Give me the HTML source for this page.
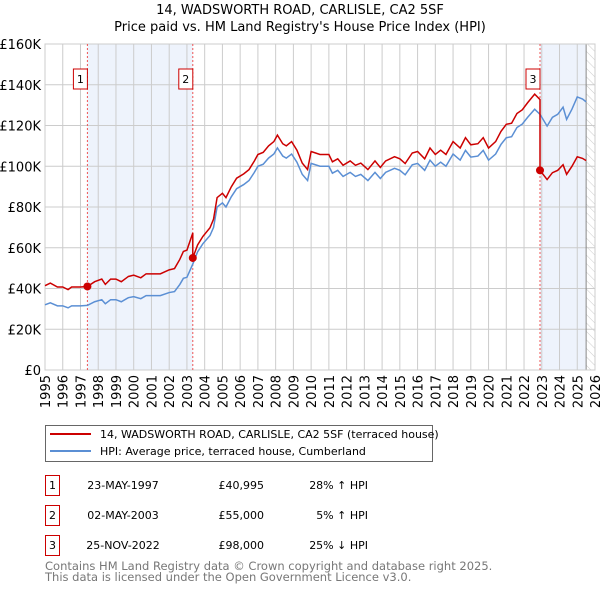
<!DOCTYPE html>
<html><head><meta charset="utf-8"><style>
body{margin:0;background:#fff;font-family:"Liberation Sans","DejaVu Sans",sans-serif;}
svg text{font-family:"DejaVu Sans","Liberation Sans",sans-serif;}
</style></head><body>
<svg id="chart" width="600" height="590" viewBox="0 0 600 590" xmlns="http://www.w3.org/2000/svg">
<defs><pattern id="hatch" width="6" height="6" patternUnits="userSpaceOnUse" patternTransform="rotate(-45)"><line x1="0" y1="0" x2="0" y2="6" stroke="#ccc" stroke-width="1"/></pattern></defs>
<text x="300" y="14" text-anchor="middle" font-size="13">14, WADSWORTH ROAD, CARLISLE, CA2 5SF</text>
<text x="300" y="31" text-anchor="middle" font-size="13">Price paid vs. HM Land Registry's House Price Index (HPI)</text>
<g id="plot"></g>
<g>
<rect x="45.5" y="425.5" width="387" height="36" fill="#fff" stroke="#666"/>
<line x1="50" y1="434" x2="91" y2="434" stroke="#cc0000" stroke-width="2"/>
<text x="100" y="438" font-size="11">14, WADSWORTH ROAD, CARLISLE, CA2 5SF (terraced house)</text>
<line x1="50" y1="451" x2="91" y2="451" stroke="#5b8fd4" stroke-width="2"/>
<text x="100" y="455" font-size="11">HPI: Average price, terraced house, Cumberland</text>
</g>
<g id="table"></g>
<text x="45" y="570" font-size="11.5" fill="#777">Contains HM Land Registry data © Crown copyright and database right 2025.</text>
<text x="45" y="581" font-size="11.5" fill="#777">This data is licensed under the Open Government Licence v3.0.</text>
</svg>
<script>
const hpiYears=[1995,1995.3,1995.7,1996,1996.3,1996.5,1997,1997.39,1997.8,1998.2,1998.4,1998.7,1999,1999.3,1999.7,2000,2000.4,2000.7,2001,2001.5,2002,2002.3,2002.6,2002.8,2003,2003.33,2003.6,2003.9,2004.3,2004.5,2004.7,2005,2005.2,2005.5,2005.8,2006.2,2006.5,2006.8,2007,2007.3,2007.6,2007.9,2008.1,2008.4,2008.6,2008.9,2009.2,2009.5,2009.8,2010,2010.5,2011,2011.2,2011.5,2011.8,2012.2,2012.5,2012.8,2013.2,2013.6,2013.9,2014.2,2014.7,2015,2015.3,2015.7,2016,2016.4,2016.7,2017,2017.3,2017.6,2018,2018.4,2018.7,2019,2019.4,2019.7,2020,2020.4,2020.7,2021,2021.3,2021.6,2021.9,2022.2,2022.6,2022.9,2023.3,2023.6,2023.9,2024.2,2024.4,2024.7,2025,2025.3,2025.5];
const hpiValues=[32,33,31.5,31.5,30.5,31.5,31.5,31.7,33.5,34.5,32.5,34.5,34.5,33.5,35.5,36,35,36.5,36.5,36.5,38,38.5,42,45,45.5,52,58,62,66,70,80,82,80,85,89,91,93,97,100,101,104,106,109,105,104,106,102,96,93,101.4,100,100,96.6,98,95,97,95,96,93,97,94,97,99,98,95.8,100.7,101.4,98,103,100,102,100,106,103,107.8,104.5,105,107.8,103,106,110.7,114,114.5,119,120.7,124,128,125.5,119.7,124,125.5,129,123,128,134,133,131.6];
const saleYears=[1997.39,2003.33,2022.9];
const salePrices=[40.995,55,98];
const saleDates=["23-MAY-1997","02-MAY-2003","25-NOV-2022"];
const saleLabels=["£40,995","£55,000","£98,000"];
const saleDiffs=["28% ↑ HPI","5% ↑ HPI","25% ↓ HPI"];
const yTicks=[0,20,40,60,80,100,120,140,160];
const yTickLabels=["£0","£20K","£40K","£60K","£80K","£100K","£120K","£140K","£160K"];
const xTicks=[1995,1996,1997,1998,1999,2000,2001,2002,2003,2004,2005,2006,2007,2008,2009,2010,2011,2012,2013,2014,2015,2016,2017,2018,2019,2020,2021,2022,2023,2024,2025,2026];

const L=45,R=595,T=44,B=370,X0=1995,X1=2026,YMAX=160;
const sx=v=>L+(v-X0)/(X1-X0)*(R-L);
const sy=v=>B-v/YMAX*(B-T);
const NS="http://www.w3.org/2000/svg";
const plot=document.getElementById('plot');
function mk(tag,attrs,parent){const e=document.createElementNS(NS,tag);for(const k in attrs)e.setAttribute(k,attrs[k]);(parent||plot).appendChild(e);return e;}
function hpiAt(y){for(let i=1;i<hpiYears.length;i++){if(y<=hpiYears[i]){const t=(y-hpiYears[i-1])/(hpiYears[i]-hpiYears[i-1]);return hpiValues[i-1]+t*(hpiValues[i]-hpiValues[i-1]);}}return hpiValues[hpiValues.length-1];}

let e;
e=mk('rect',{x:sx(saleYears[0]),y:T,width:sx(saleYears[1])-sx(saleYears[0]),height:B-T,fill:'#eef3fc'});


const lastY=hpiYears[hpiYears.length-1];
e=mk('rect',{x:sx(saleYears[2]),y:T,width:sx(lastY)-sx(saleYears[2]),height:B-T,fill:'#eef3fc'});


e=mk('rect',{x:sx(lastY),y:T,width:R-sx(lastY),height:B-T,fill:'url(#hatch)'});



yTicks.forEach((v,i)=>{
 e=mk('line',{x1:L,x2:R,y1:sy(v),y2:sy(v),stroke:'#ccc','stroke-width':1});
 
 
 e=mk('text',{x:L-4,y:sy(v)+5,'text-anchor':'end','font-size':'13'});
 e.textContent=yTickLabels[i];
 
 
});
xTicks.forEach(v=>{
 e=mk('line',{x1:sx(v),x2:sx(v),y1:T,y2:B,stroke:'#ccc','stroke-width':1});
 
 
 e=mk('text',{x:0,y:0,'text-anchor':'end','font-size':'13',transform:`translate(${sx(v)+5},${B+5}) rotate(-90)`});
 e.textContent=v;
 
 
});
e=mk('line',{x1:sx(lastY),x2:sx(lastY),y1:T,y2:B,stroke:'#888','stroke-width':1});


e=mk('rect',{x:L,y:T,width:R-L,height:B-T,fill:'none',stroke:'#ccc'});



saleYears.forEach((y,i)=>{
 e=mk('line',{x1:sx(y),x2:sx(y),y1:T,y2:B,stroke:'#ee5555','stroke-width':1,'stroke-dasharray':'2,2'});
 
 
});

// HPI line
e=mk('polyline',{points:hpiYears.map((y,i)=>sx(y)+','+sy(hpiValues[i])).join(' '),fill:'none',stroke:'#5b8fd4','stroke-width':1.5});



// Price paid line: HPI scaled by ratio at latest sale
function ratioAt(y){let k=0;for(let i=0;i<saleYears.length;i++){if(y>=saleYears[i])k=i;}return salePrices[k]/hpiAt(saleYears[k]);}
const pts=[];
hpiYears.forEach((y,i)=>{
 for(let k=1;k<saleYears.length;k++){const s=saleYears[k];const prev=i>0?hpiYears[i-1]:X0;if(s>prev&&s<=y&&s!==y){pts.push([s,hpiAt(s)*ratioAt(prev)]);pts.push([s,salePrices[k]]);}
  if(s===y){pts.push([s,hpiAt(s)*ratioAt(hpiYears[i-1])]);}}
 pts.push([y,hpiValues[i]*ratioAt(y)]);
});
e=mk('polyline',{points:pts.map(p=>sx(p[0])+','+sy(p[1])).join(' '),fill:'none',stroke:'#cc0000','stroke-width':1.5});



saleYears.forEach((y,i)=>{
 e=mk('circle',{cx:sx(y),cy:sy(salePrices[i]),r:4,fill:'#cc0000'});
 
 
 const bx=sx(y)-7-(i===2?0:7);
 e=mk('rect',{x:sx(y)-(i===2?14:14)-0,y:69,width:14,height:20,fill:'#fff',stroke:'#cc0000'});
 
 
 e=mk('text',{x:sx(y)-7,y:83,'text-anchor':'middle','font-size':'11'});
 e.textContent=i+1;
 
 
});

const tbl=document.getElementById('table');
saleYears.forEach((y,i)=>{
 const ry=475+i*30;
 e=mk('rect',{x:45.5,y:ry+0.5,width:14,height:20,fill:'#fff',stroke:'#cc0000'},tbl);
 
 
 e=mk('text',{x:52.5,y:ry+14,'text-anchor':'middle','font-size':'11'},tbl);
 e.textContent=i+1;
 
 
 e=mk('text',{x:123,y:ry+14,'text-anchor':'middle','font-size':'11'},tbl);
 e.textContent=saleDates[i];
 
 
 e=mk('text',{x:264,y:ry+14,'text-anchor':'end','font-size':'11'},tbl);
 e.textContent=saleLabels[i];
 
 
 e=mk('text',{x:368,y:ry+14,'text-anchor':'end','font-size':'11'},tbl);
 e.textContent=saleDiffs[i];
 
 
});
</script>
</body></html>
